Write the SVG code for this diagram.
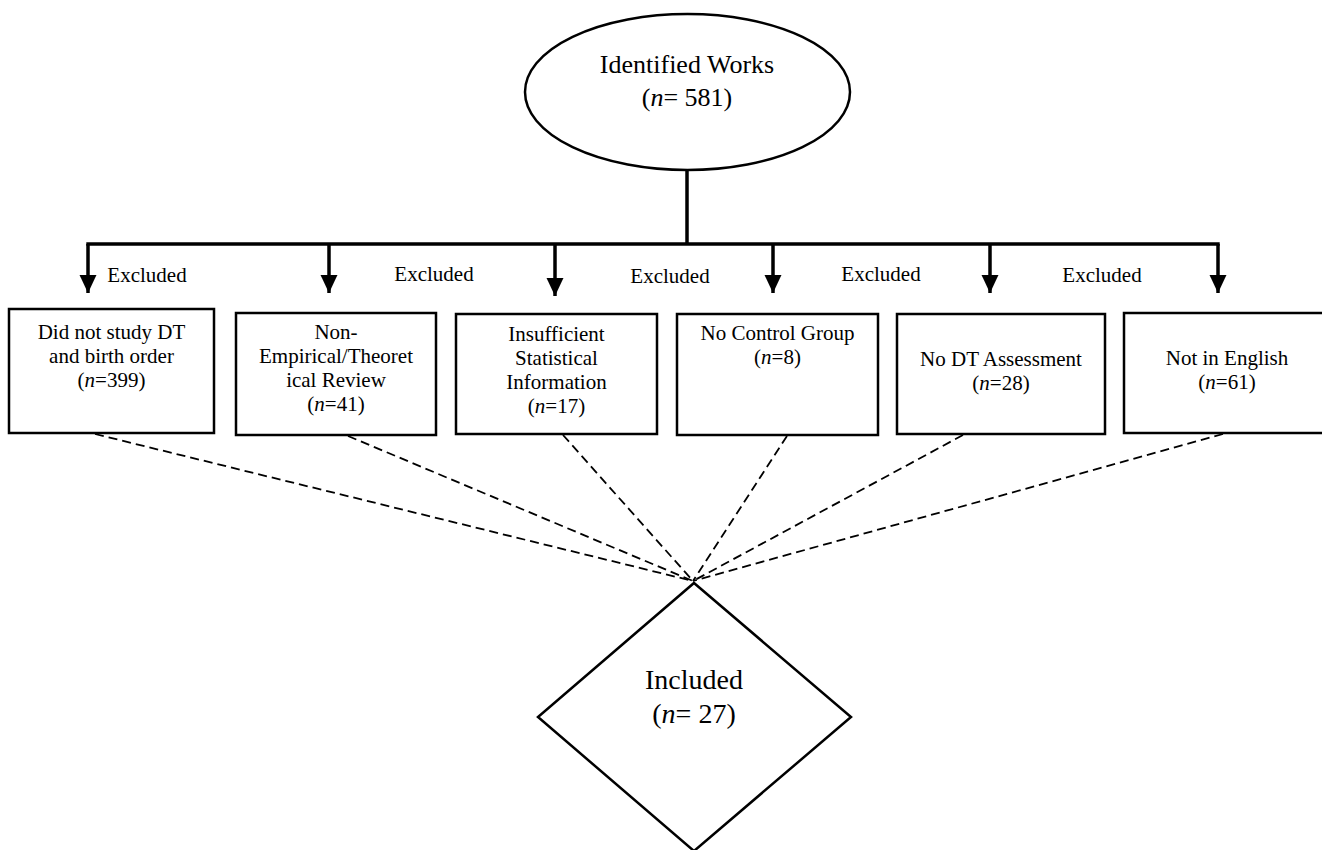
<svg xmlns="http://www.w3.org/2000/svg" width="1322" height="850" viewBox="0 0 1322 850">
<style>
text{font-family:"Liberation Serif","Times New Roman",serif;fill:#000;text-anchor:middle}
.t{font-size:21px}
.big{font-size:26px}
.dia{font-size:28px}
.box{fill:#fff;stroke:#000;stroke-width:2.5}
.solid{fill:none;stroke:#000;stroke-width:3.5}
.dash{fill:none;stroke:#000;stroke-width:1.8;stroke-dasharray:9 5}
</style>
<defs>
<marker id="ah" markerUnits="userSpaceOnUse" markerWidth="18" markerHeight="18" refX="17" refY="8" orient="auto" viewBox="0 0 17 16">
<path d="M0,0 L17,8 L0,16 Z" fill="#000"/>
</marker>
</defs>
<rect width="1322" height="850" fill="#fff"/>
<g id="connectors">
<line class="solid" x1="687" y1="170" x2="687" y2="244"/>
<line class="solid" x1="86.3" y1="244" x2="1219.7" y2="244"/>
<line class="solid" x1="88" y1="244" x2="88" y2="293" marker-end="url(#ah)"/>
<line class="solid" x1="329" y1="244" x2="329" y2="293" marker-end="url(#ah)"/>
<line class="solid" x1="555" y1="244" x2="555" y2="296" marker-end="url(#ah)"/>
<line class="solid" x1="773" y1="244" x2="773" y2="293" marker-end="url(#ah)"/>
<line class="solid" x1="990" y1="244" x2="990" y2="293" marker-end="url(#ah)"/>
<line class="solid" x1="1218" y1="244" x2="1218" y2="293" marker-end="url(#ah)"/>
<text class="t" x="147" y="282">Excluded</text>
<text class="t" x="434" y="281">Excluded</text>
<text class="t" x="670" y="283">Excluded</text>
<text class="t" x="881" y="281">Excluded</text>
<text class="t" x="1102" y="282">Excluded</text>
<line class="dash" x1="95" y1="434" x2="693" y2="581"/>
<line class="dash" x1="348" y1="436" x2="693" y2="581"/>
<line class="dash" x1="563" y1="435" x2="693" y2="581"/>
<line class="dash" x1="787" y1="436" x2="693" y2="581"/>
<line class="dash" x1="963" y1="435" x2="693" y2="581"/>
<line class="dash" x1="1223" y1="434" x2="693" y2="581"/>
</g>
<g id="identified">
<ellipse cx="687.5" cy="92" rx="162.5" ry="78" fill="#fff" stroke="#000" stroke-width="2.5"/>
<text class="big" x="687" y="73">Identified Works</text>
<text class="big" x="687" y="106">(<tspan font-style="italic">n</tspan>= 581)</text>
</g>
<g id="box1">
<rect class="box" x="9" y="309" width="205" height="124"/>
<text class="t" x="111.5" y="339">Did not study DT</text>
<text class="t" x="111.5" y="363">and birth order</text>
<text class="t" x="111.5" y="387">(<tspan font-style="italic">n</tspan>=399)</text>
</g>
<g id="box2">
<rect class="box" x="236" y="313" width="200" height="122"/>
<text class="t" x="336" y="339">Non-</text>
<text class="t" x="336" y="363">Empirical/Theoret</text>
<text class="t" x="336" y="387">ical Review</text>
<text class="t" x="336" y="411">(<tspan font-style="italic">n</tspan>=41)</text>
</g>
<g id="box3">
<rect class="box" x="456" y="314" width="201" height="120"/>
<text class="t" x="556.5" y="341">Insufficient</text>
<text class="t" x="556.5" y="365">Statistical</text>
<text class="t" x="556.5" y="389">Information</text>
<text class="t" x="556.5" y="413">(<tspan font-style="italic">n</tspan>=17)</text>
</g>
<g id="box4">
<rect class="box" x="677" y="314" width="201" height="121"/>
<text class="t" x="777.5" y="340">No Control Group</text>
<text class="t" x="777.5" y="364">(<tspan font-style="italic">n</tspan>=8)</text>
</g>
<g id="box5">
<rect class="box" x="897" y="314" width="208" height="120"/>
<text class="t" x="1001" y="366">No DT Assessment</text>
<text class="t" x="1001" y="390">(<tspan font-style="italic">n</tspan>=28)</text>
</g>
<g id="box6">
<rect class="box" x="1124" y="313" width="206" height="120"/>
<text class="t" x="1227" y="365">Not in English</text>
<text class="t" x="1227" y="389">(<tspan font-style="italic">n</tspan>=61)</text>
</g>
<g id="included">
<polygon points="694,583 851,717 694,851 538,717" fill="#fff" stroke="#000" stroke-width="2.5"/>
<text class="dia" x="694" y="689">Included</text>
<text class="dia" x="694" y="723">(<tspan font-style="italic">n</tspan>= 27)</text>
</g>
</svg>
